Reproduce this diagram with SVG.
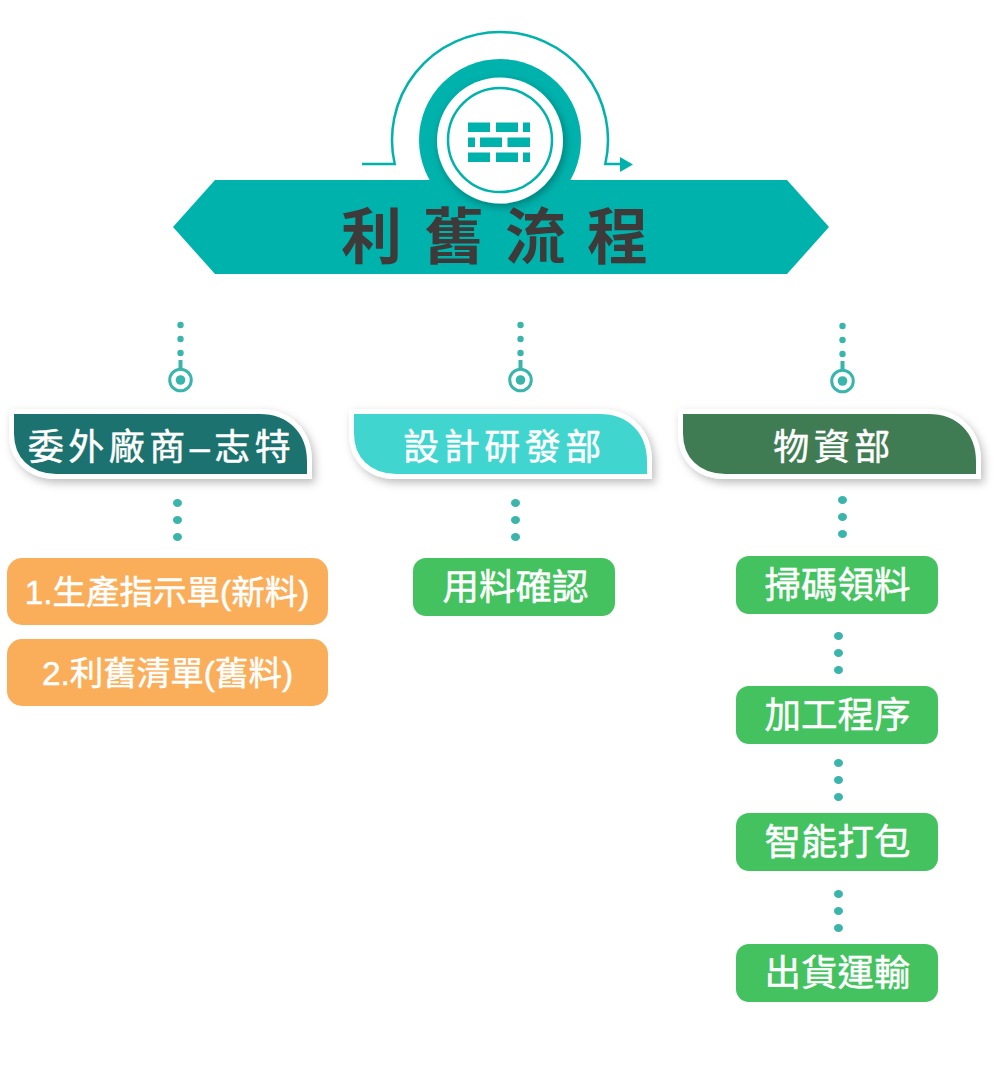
<svg xmlns="http://www.w3.org/2000/svg" width="1000" height="1078" viewBox="0 0 1000 1078">
<defs>
<filter id="sh" x="-20%" y="-30%" width="140%" height="170%"><feDropShadow dx="3" dy="4" stdDeviation="4" flood-color="#000" flood-opacity="0.25"/></filter>
<filter id="sh2" x="-30%" y="-30%" width="160%" height="160%"><feDropShadow dx="2" dy="3" stdDeviation="4" flood-color="#000" flood-opacity="0.3"/></filter>
<g id="dots1"><circle cx="0" cy="0" r="3.2"/><circle cx="0" cy="14" r="3.2"/><circle cx="0" cy="28" r="3.2"/><rect x="-2" y="35" width="4" height="10"/><circle cx="0" cy="55" r="10.8" fill="#fff" stroke="#39b5ac" stroke-width="3"/><circle cx="0" cy="55" r="4.8"/></g>
<g id="dots2"><ellipse cx="0" cy="0" rx="4.5" ry="4"/><ellipse cx="0" cy="17" rx="4.500" ry="4"/><ellipse cx="0" cy="34" rx="4.5" ry="4"/></g>
<path id="tab" d="M0 0H248C278 0 298 20 298 50V65H45C17 65 0 47 0 22Z"/>
</defs>
<style>
text{font-family:"Liberation Sans","Noto Sans CJK TC","Noto Sans CJK SC",sans-serif;text-anchor:middle}
.w{fill:#fff;stroke:#fff;stroke-width:0.5px;font-size:36.500px;font-weight:400}
.o2{fill:#fff;stroke:#fff;stroke-width:0.5px;font-size:33.500px;font-weight:400}
.h{fill:#fff;stroke:#fff;stroke-width:0.5px;font-size:36px;font-weight:400;letter-spacing:4.500px}
.d{fill:#39b5ac}
.o{fill:#fbae5a}
.g{fill:#43c25f}
.tile{fill:#00b2ac}
</style>
<g id="connectors" class="d">
<use href="#dots1" x="180.500" y="325"/>
<use href="#dots1" x="520.500" y="325"/>
<use href="#dots1" x="842.500" y="326"/>
<use href="#dots2" x="177.500" y="503"/>
<use href="#dots2" x="515.500" y="503"/>
<use href="#dots2" x="842.500" y="500"/>
<use href="#dots2" x="838.500" y="636"/>
<use href="#dots2" x="838.500" y="763"/>
<use href="#dots2" x="838.500" y="894"/>
</g>
<g id="title">
<path d="M362 164H394.700A108 108 0 1 1 605.300 164H622" fill="none" stroke="#00b2ac" stroke-width="2.500"/>
<path d="M620 157L633 164.500L620 172Z" fill="#00b2ac"/>
<circle cx="500" cy="140" r="81" fill="#00b2ac"/>
<path d="M215 180H787L829 227L787 274H215L173 227Z" fill="#00b2ac"/>
<circle cx="500" cy="140.500" r="63" fill="#fff" filter="url(#sh2)"/>
<circle cx="500" cy="140" r="52" fill="#fff" stroke="#00b2ac" stroke-width="2.500"/>
<g class="tile">
<rect x="468" y="122.500" width="22" height="9.500"/><rect x="496" y="122.500" width="22" height="9.500"/><rect x="523" y="122.500" width="7" height="9.500"/>
<rect x="468" y="137.500" width="7" height="9.500"/><rect x="480" y="137.500" width="22" height="9.500"/><rect x="507.500" y="137.500" width="22.500" height="9.500"/>
<rect x="468" y="152.500" width="22" height="9.500"/><rect x="496" y="152.500" width="22" height="9.500"/><rect x="523" y="152.500" width="7" height="9.500"/>
</g>
<text x="495" y="259" font-size="61" font-weight="700" fill="#3e3a39" style="letter-spacing:21px" dx="10">利舊流程</text>
</g>
<g id="n1"><use href="#tab" x="11.500" y="411.500" fill="#1b726e" stroke="#fff" stroke-width="5" filter="url(#sh)"/><text class="h" x="161.500" y="460">委外廠商–志特</text></g>
<g id="n2"><use href="#tab" x="351.500" y="411.500" fill="#3fd5cf" stroke="#fff" stroke-width="5" filter="url(#sh)"/><text class="h" x="504.500" y="460">設計研發部</text></g>
<g id="n3"><use href="#tab" x="680.500" y="411.500" fill="#407b52" stroke="#fff" stroke-width="5" filter="url(#sh)"/><text class="h" x="834" y="460">物資部</text></g>
<g id="a1"><rect class="o" x="7" y="558" width="321" height="67" rx="15"/><text class="o2" x="167" y="604">1.生產指示單(新料)</text></g>
<g id="a2"><rect class="o" x="7" y="639" width="321" height="67" rx="15"/><text class="o2" x="167.500" y="685">2.利舊清單(舊料)</text></g>
<g id="b1"><rect class="g" x="413" y="558" width="202" height="58" rx="13"/><text class="w" x="515.500" y="600">用料確認</text></g>
<g id="c1"><rect class="g" x="736" y="556" width="202" height="58" rx="13"/><text class="w" x="837.500" y="598">掃碼領料</text></g>
<g id="c2"><rect class="g" x="736" y="686" width="202" height="58" rx="13"/><text class="w" x="837.500" y="728">加工程序</text></g>
<g id="c3"><rect class="g" x="736" y="813" width="202" height="58" rx="13"/><text class="w" x="837.500" y="855">智能打包</text></g>
<g id="c4"><rect class="g" x="736" y="944" width="202" height="58" rx="13"/><text class="w" x="837.500" y="986">出貨運輸</text></g>
</svg>
